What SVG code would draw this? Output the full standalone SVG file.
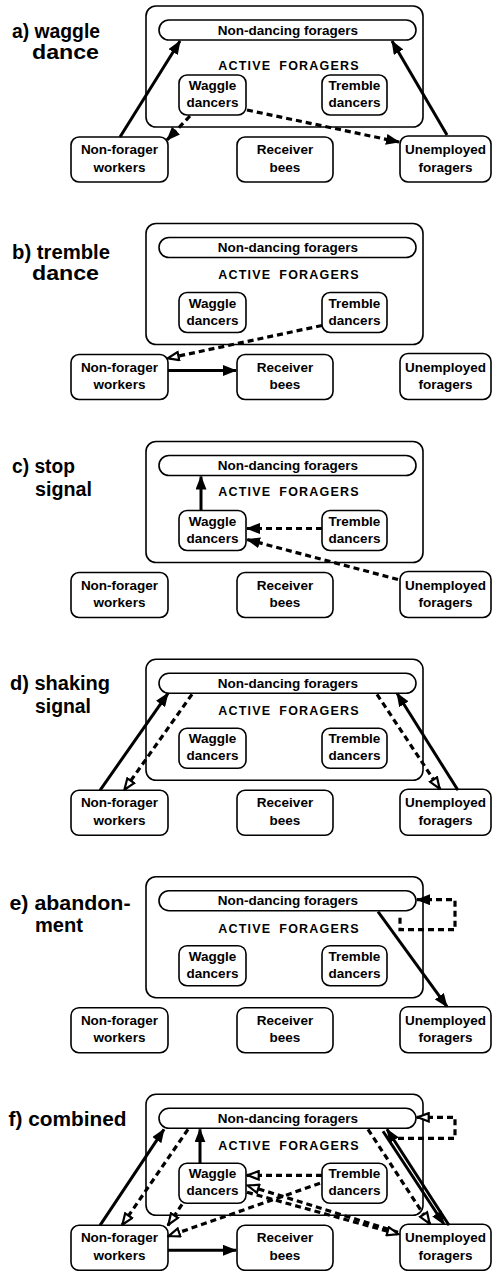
<svg xmlns="http://www.w3.org/2000/svg" width="493" height="1271" viewBox="0 0 493 1271">
<defs>
<style>
.bx{fill:#fff;stroke:#000;stroke-width:1.6}
.ob{fill:none;stroke:#000;stroke-width:1.6}
.nt{font-family:"Liberation Sans",Arial,sans-serif;font-weight:bold;font-size:13.5px;fill:#000;text-anchor:middle}
.af{font-family:"Liberation Sans",Arial,sans-serif;font-weight:bold;font-size:12.5px;letter-spacing:1.2px;fill:#000;text-anchor:middle}
.tt{font-family:"Liberation Sans",Arial,sans-serif;font-weight:bold;font-size:20px;fill:#000}
.s{fill:none;stroke:#000;stroke-width:3;marker-end:url(#hf)}
.d{fill:none;stroke:#000;stroke-width:3.2;stroke-dasharray:6 4;marker-end:url(#hf)}
.dh{fill:none;stroke:#000;stroke-width:3.2;stroke-dasharray:6 4;marker-end:url(#ho)}
</style>
<marker id="hf" viewBox="0 0 14 11" refX="13" refY="5.5" markerWidth="14" markerHeight="11" markerUnits="userSpaceOnUse" orient="auto">
<path d="M0,0 L14,5.5 L0,11 z" fill="#000"/>
</marker>
<marker id="ho" viewBox="0 0 14 11" refX="13" refY="5.5" markerWidth="14" markerHeight="11" markerUnits="userSpaceOnUse" orient="auto">
<path d="M1.3,1.3 L12.3,5.5 L1.3,9.7 z" fill="#fff" stroke="#000" stroke-width="2.2"/>
</marker>
<g id="nodes">
<rect class="ob" x="146" y="6" width="277" height="121" rx="10"/>
<rect class="bx" x="159" y="20" width="257" height="20" rx="10"/>
<text class="nt" x="288" y="34.5">Non-dancing foragers</text>
<rect class="bx" x="179" y="75" width="67" height="40" rx="8"/>
<text class="nt" x="212.5" y="90">Waggle</text>
<text class="nt" x="212.5" y="107">dancers</text>
<rect class="bx" x="322" y="75" width="65" height="40" rx="8"/>
<text class="nt" x="354.5" y="90">Tremble</text>
<text class="nt" x="354.5" y="107">dancers</text>
<rect class="bx" x="71" y="137" width="97" height="45" rx="8"/>
<text class="nt" x="119.5" y="154">Non-forager</text>
<text class="nt" x="119.5" y="171.5">workers</text>
<rect class="bx" x="237" y="137" width="96" height="45" rx="8"/>
<text class="nt" x="285" y="154">Receiver</text>
<text class="nt" x="285" y="171.5">bees</text>
<rect class="bx" x="400" y="136" width="91" height="46" rx="8"/>
<text class="nt" x="445.5" y="154">Unemployed</text>
<text class="nt" x="445.5" y="171.5">foragers</text>
</g>
</defs>
<rect width="493" height="1271" fill="#fff"/>

<g id="panel-a">
<text class="tt" x="12" y="37.5" textLength="88" lengthAdjust="spacingAndGlyphs">a) waggle</text>
<text class="tt" x="32" y="59" textLength="67" lengthAdjust="spacingAndGlyphs">dance</text>
<use href="#nodes"/>
<text class="af" x="289" y="70">ACTIVE<tspan dx="8">FORAGERS</tspan></text>
<g id="connectors-a">
<path class="s" d="M120,137 L180,41"/>
<path class="s" d="M447,135 L392,41"/>
<path class="d" d="M190,116 L167,140"/>
<path class="d" d="M247,110 L399,142"/>
</g>
</g>

<g id="panel-b" transform="translate(0,217.5)">
<text class="tt" x="12" y="41.5" textLength="98" lengthAdjust="spacingAndGlyphs">b) tremble</text>
<text class="tt" x="32" y="62.5" textLength="67" lengthAdjust="spacingAndGlyphs">dance</text>
<use href="#nodes"/>
<text class="af" x="289" y="61.5">ACTIVE<tspan dx="8">FORAGERS</tspan></text>
<g id="connectors-b">
<path class="dh" d="M322,108 L167,141"/>
<path class="s" d="M168,153 L236,153"/>
</g>
</g>

<g id="panel-c" transform="translate(0,435.5)">
<text class="tt" x="12" y="37" textLength="63" lengthAdjust="spacingAndGlyphs">c) stop</text>
<text class="tt" x="35" y="60.5" textLength="57" lengthAdjust="spacingAndGlyphs">signal</text>
<use href="#nodes"/>
<text class="af" x="289" y="60">ACTIVE<tspan dx="8">FORAGERS</tspan></text>
<g id="connectors-c">
<path class="s" d="M201,75 L201,41"/>
<path class="d" d="M322,93 L247,93"/>
<path class="d" d="M398,144 L247,104"/>
</g>
</g>

<g id="panel-d" transform="translate(0,653.3)">
<text class="tt" x="10" y="37" textLength="100" lengthAdjust="spacingAndGlyphs">d) shaking</text>
<text class="tt" x="35" y="59.5" textLength="56" lengthAdjust="spacingAndGlyphs">signal</text>
<use href="#nodes"/>
<text class="af" x="289" y="61.5">ACTIVE<tspan dx="8">FORAGERS</tspan></text>
<g id="connectors-d">
<path class="s" d="M100,137 L168,40"/>
<path class="dh" d="M192,41 L124,137"/>
<path class="s" d="M458,137 L397,40"/>
<path class="dh" d="M377,41 L440,136"/>
</g>
</g>

<g id="panel-e" transform="translate(0,870.7)">
<text class="tt" x="9.5" y="39" textLength="121" lengthAdjust="spacingAndGlyphs">e) abandon-</text>
<text class="tt" x="35" y="61" textLength="48" lengthAdjust="spacingAndGlyphs">ment</text>
<use href="#nodes"/>
<text class="af" x="289" y="62">ACTIVE<tspan dx="8">FORAGERS</tspan></text>
<g id="connectors-e">
<path class="s" d="M378,41 L447,136"/>
<path class="d" d="M400,47 L400,59 L455,59 L455,29 L417,29"/>
</g>
</g>

<g id="panel-f" transform="translate(0,1088.3)">
<text class="tt" x="8.5" y="37.5" textLength="118" lengthAdjust="spacingAndGlyphs">f) combined</text>
<use href="#nodes"/>
<text class="af" x="289" y="61.5">ACTIVE<tspan dx="8">FORAGERS</tspan></text>
<g id="connectors-f">
<path class="s" d="M100,137 L164,41"/>
<path class="dh" d="M188,41 L122,137"/>
<path class="s" d="M200,75 L200,41"/>
<path class="dh" d="M322,87 L247,87"/>
<path class="dh" d="M320,95 L168,148"/>
<path class="dh" d="M182,116 L168,137"/>
<path class="dh" d="M398,144 L247,97"/>
<path class="dh" d="M247,104 L399,146"/>
<path class="s" d="M449,137 L387,41"/>
<path class="s" d="M383,43 L444,136"/>
<path class="dh" d="M368,41 L430,136"/>
<path class="s" d="M168,162 L236,162"/>
<path class="dh" d="M398,50 L455,50 L455,29 L417,29"/>
</g>
</g>
</svg>
